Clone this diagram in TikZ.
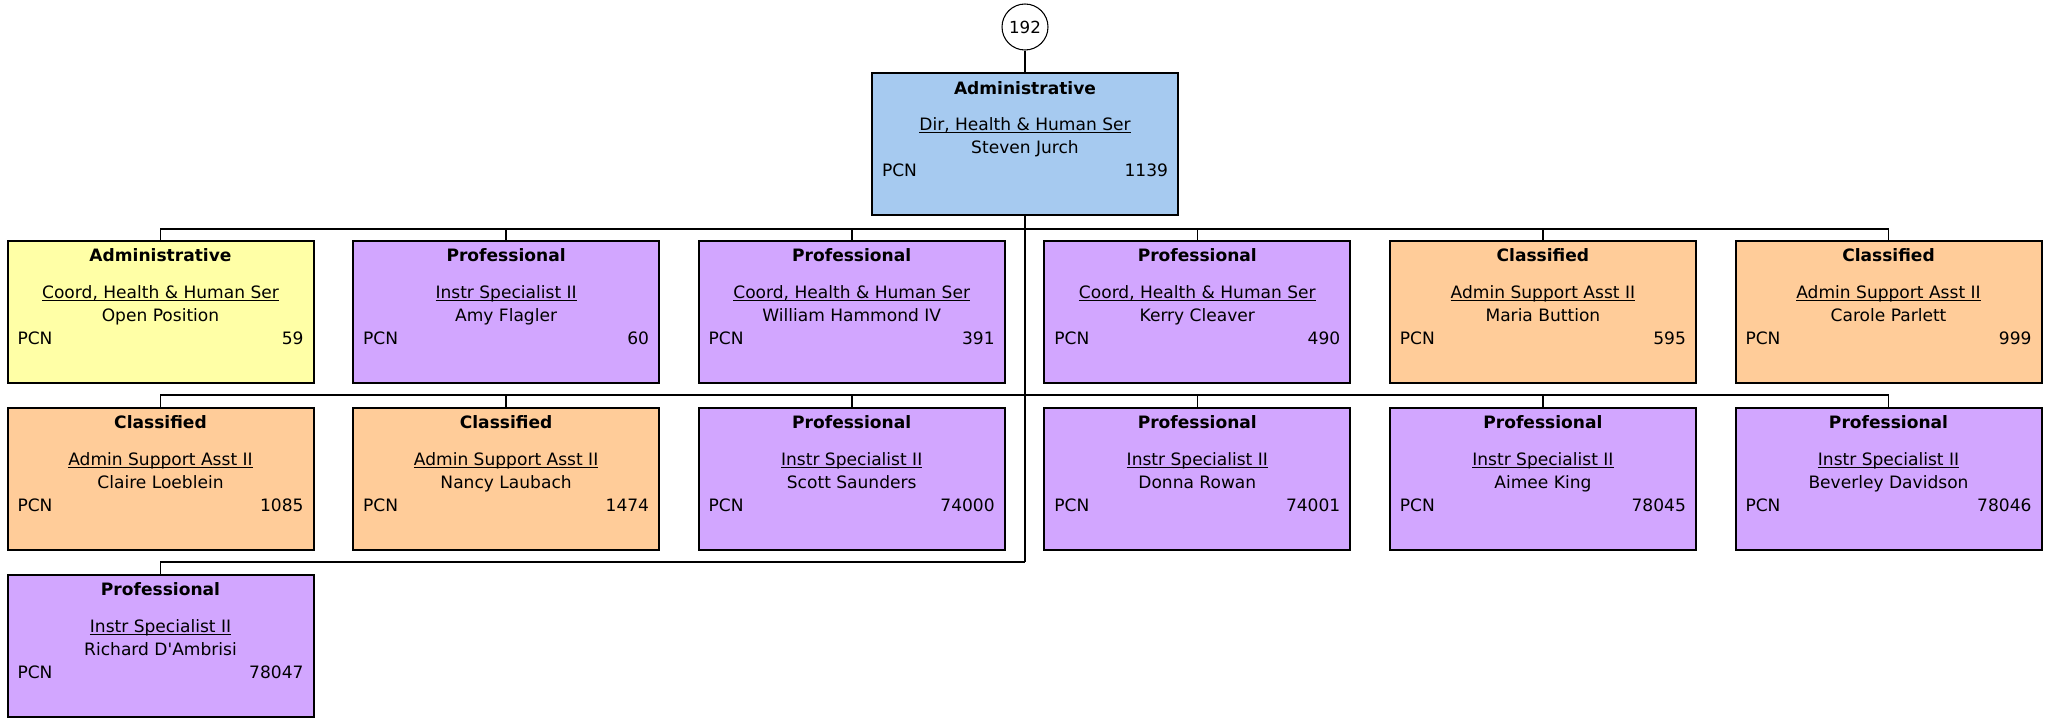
\documentclass[tikz,border=0pt]{standalone}
\usepackage{fontspec}
\setmainfont{DejaVu Sans}
\usetikzlibrary{positioning}
\definecolor{adminblue}{RGB}{166,202,240}
\definecolor{adminyellow}{RGB}{255,255,166}
\definecolor{profpurple}{RGB}{210,166,255}
\definecolor{classorange}{RGB}{255,204,153}

\newcommand{\cardtext}[4]{%
  \parbox[c][106.5pt][t]{229.5pt}{\centering\fontsize{12.8}{17.25}\selectfont
    \vspace*{6pt}\textbf{#1}\par\vspace{10pt}
    \underline{\smash{#2}}\par #3\par
    \makebox[229.5pt]{\hspace{7.5pt}PCN\hfill #4\hspace{7.5pt}}\par}}

\begin{document}
\begin{tikzpicture}[
    x=0.75pt, y=-0.75pt,
    card/.style={draw, line width=1.5pt, inner sep=0pt, outer sep=0pt,
                 minimum width=229.5pt, minimum height=106.5pt},
    bubble/.style={draw, circle, line width=0.8pt, fill=white, minimum size=34.5pt,
                   inner sep=0pt, font=\fontsize{12.5}{13}\selectfont},
    link/.style={line width=1.2pt}
]
    \useasboundingbox (0,0) rectangle (2049,720);

    \node[bubble] (num) at (1025,27) {192};
    \node[card, fill=adminblue] (head) at (1025,144.5)
        {\cardtext{Administrative}{Dir, Health \& Human Ser}{Steven Jurch}{1139}};

    % first row
    \node[card, fill=adminyellow] (r1a) at (160.5,312)
        {\cardtext{Administrative}{Coord, Health \& Human Ser}{Open Position}{59}};
    \node[card, fill=profpurple] (r1b) at (506.1,312)
        {\cardtext{Professional}{Instr Specialist II}{Amy Flagler}{60}};
    \node[card, fill=profpurple] (r1c) at (851.7,312)
        {\cardtext{Professional}{Coord, Health \& Human Ser}{William Hammond IV}{391}};
    \node[card, fill=profpurple] (r1d) at (1197.3,312)
        {\cardtext{Professional}{Coord, Health \& Human Ser}{Kerry Cleaver}{490}};
    \node[card, fill=classorange] (r1e) at (1542.9,312)
        {\cardtext{Classified}{Admin Support Asst II}{Maria Buttion}{595}};
    \node[card, fill=classorange] (r1f) at (1888.5,312)
        {\cardtext{Classified}{Admin Support Asst II}{Carole Parlett}{999}};

    % second row
    \node[card, fill=classorange] (r2a) at (160.5,479)
        {\cardtext{Classified}{Admin Support Asst II}{Claire Loeblein}{1085}};
    \node[card, fill=classorange] (r2b) at (506.1,479)
        {\cardtext{Classified}{Admin Support Asst II}{Nancy Laubach}{1474}};
    \node[card, fill=profpurple] (r2c) at (851.7,479)
        {\cardtext{Professional}{Instr Specialist II}{Scott Saunders}{74000}};
    \node[card, fill=profpurple] (r2d) at (1197.3,479)
        {\cardtext{Professional}{Instr Specialist II}{Donna Rowan}{74001}};
    \node[card, fill=profpurple] (r2e) at (1542.9,479)
        {\cardtext{Professional}{Instr Specialist II}{Aimee King}{78045}};
    \node[card, fill=profpurple] (r2f) at (1888.5,479)
        {\cardtext{Professional}{Instr Specialist II}{Beverley Davidson}{78046}};

    % third row
    \node[card, fill=profpurple] (r3a) at (160.5,646)
        {\cardtext{Professional}{Instr Specialist II}{Richard D\textquotesingle Ambrisi}{78047}};

    % connectors
    \coordinate (bus1) at (1025,229);
    \coordinate (bus2) at (1025,395);
    \coordinate (bus3) at (1025,562);
    \draw[link] (num.south) -- (head.north);
    \draw[link] (head.south) -- (bus3);
    \draw[link] (r1a.north) |- (bus1) -| (r1f.north);
    \foreach \n in {r1b,r1c,r1d,r1e}
        \draw[link] (\n.north) -- (\n.north |- bus1);
    \draw[link] (r2a.north) |- (bus2) -| (r2f.north);
    \foreach \n in {r2b,r2c,r2d,r2e}
        \draw[link] (\n.north) -- (\n.north |- bus2);
    \draw[link] (r3a.north) |- (bus3);
\end{tikzpicture}
\end{document}
